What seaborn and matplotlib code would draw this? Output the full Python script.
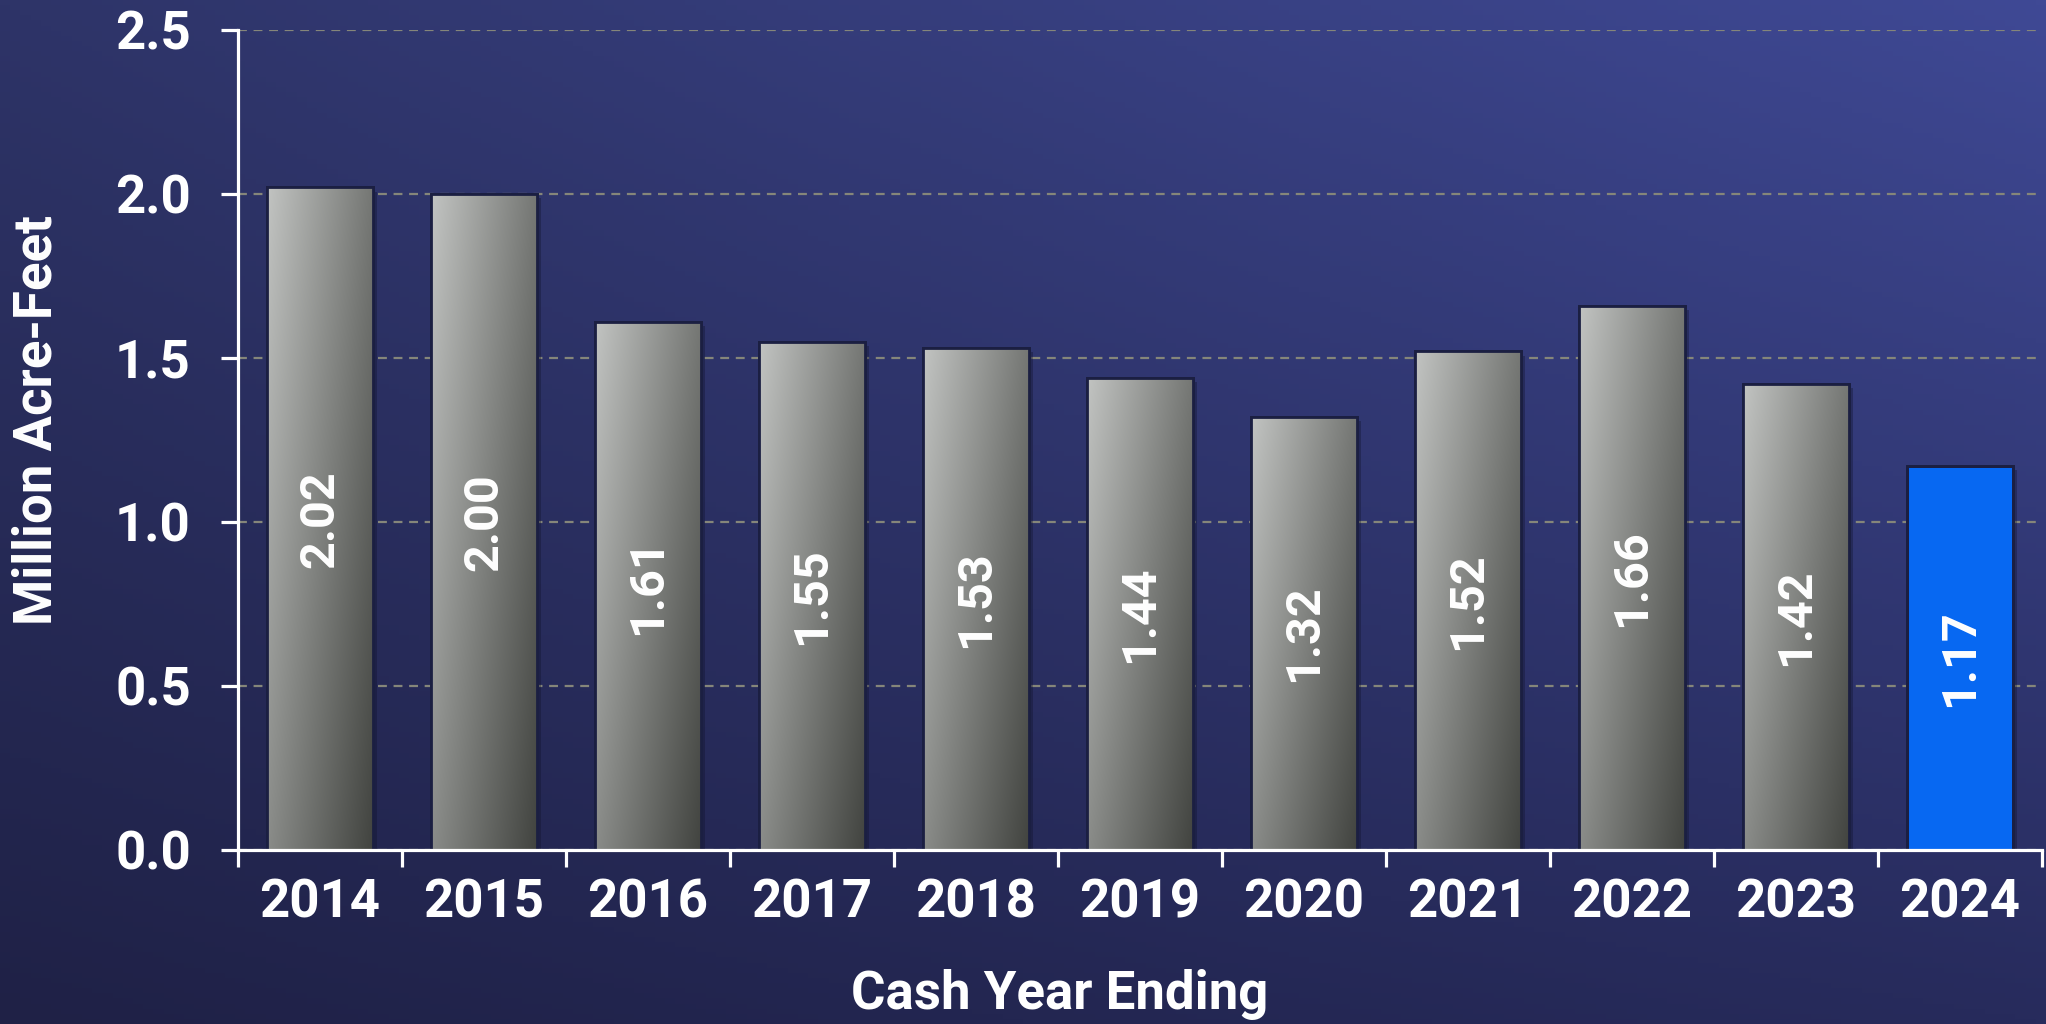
import numpy as np
import pandas as pd
import seaborn as sns
import matplotlib.pyplot as plt
from matplotlib.patches import Rectangle
from matplotlib import patheffects as pe

# data
years = ['2014', '2015', '2016', '2017', '2018', '2019', '2020', '2021', '2022', '2023', '2024']
values = [2.02, 2.00, 1.61, 1.55, 1.53, 1.44, 1.32, 1.52, 1.66, 1.42, 1.17]
value_labels = ['2.02', '2.00', '1.61', '1.55', '1.53', '1.44', '1.32', '1.52', '1.66', '1.42', '1.17']
highlight_year = '2024'
y_ticks = [0.0, 0.5, 1.0, 1.5, 2.0, 2.5]

df = pd.DataFrame({'year': years, 'value': values})

sns.set_theme(style='white')
plt.rcParams['font.family'] = ['Roboto', 'DejaVu Sans']
plt.rcParams['font.weight'] = 'bold'


def four_corner(tl, tr, bl, br, n=200):
    # bilinear blend of four corner colours, rows from top to bottom
    tl, tr, bl, br = [np.array(plt.matplotlib.colors.to_rgb(c)) for c in (tl, tr, bl, br)]
    u = np.linspace(0, 1, n)[None, :, None]
    v = np.linspace(0, 1, n)[:, None, None]
    top = tl * (1 - u) + tr * u
    bot = bl * (1 - u) + br * u
    return top * (1 - v) + bot * v


fig = plt.figure(figsize=(20.46, 10.24), dpi=100)

# background gradient
bg = fig.add_axes([0, 0, 1, 1], zorder=-10)
bg.imshow(four_corner('#2e3468', '#3f4995', '#1f2146', '#272b5c'),
          extent=[0, 1, 0, 1], aspect='auto', origin='upper')
bg.axis('off')

ax = fig.add_axes([238 / 2046, 1 - 850 / 1024, 1804 / 2046, 820 / 1024])
ax.set_facecolor('none')

palette = {y: ('#0768f2' if y == highlight_year else '#9a9c9a') for y in years}
sns.barplot(data=df, x='year', y='value', hue='year', palette=palette, saturation=1,
            width=0.65, edgecolor='#1b1f42', linewidth=2, legend=False, ax=ax,
            zorder=3)

bar_grad = four_corner('#c2c4c2', '#747673', '#8a8c89', '#41433f')
for patch, year in zip(ax.patches, years):
    patch.set_path_effects([pe.SimplePatchShadow(offset=(3, -3), shadow_rgbFace='#10122a', alpha=0.35),
                            pe.Normal()])
    x0, y0 = patch.get_x(), patch.get_y()
    w, h = patch.get_width(), patch.get_height()
    if year != highlight_year:
        im = ax.imshow(bar_grad, extent=[x0, x0 + w, y0, y0 + h], aspect='auto',
                       origin='upper', zorder=4)
        im.set_clip_path(patch)
    ax.add_patch(Rectangle((x0, y0), w, h, facecolor='none', edgecolor='#1b1f42',
                           linewidth=2, zorder=5))

for i, (v, lab) in enumerate(zip(values, value_labels)):
    ax.text(i, v / 2, lab, rotation=90, ha='center', va='center', color='white',
            fontsize=35, fontweight='bold', zorder=6)

ax.set_xlim(-0.5, len(years) - 0.5)
ax.set_ylim(0, 2.5)
ax.set_yticks(y_ticks)
ax.set_yticklabels([f'{t:.1f}' for t in y_ticks])
ax.set_xticks(np.arange(-0.5, len(years)), minor=True)

ax.yaxis.grid(True, linestyle=(0, (4, 3)), color='#85867a', linewidth=1.6)
ax.xaxis.grid(False)
ax.set_axisbelow(True)

for s in ['top', 'right']:
    ax.spines[s].set_visible(False)
for s in ['left', 'bottom']:
    ax.spines[s].set_color('white')
    ax.spines[s].set_linewidth(2.3)
    ax.spines[s].set_zorder(7)

ax.tick_params(axis='y', which='major', direction='out', length=12, width=2.3,
               color='white', labelcolor='white', labelsize=38, pad=22, left=True)
ax.tick_params(axis='x', which='major', length=0, labelcolor='white', labelsize=38, pad=20)
ax.tick_params(axis='x', which='minor', direction='out', length=12, width=2.3,
               color='white', bottom=True)
for lab in ax.get_xticklabels() + ax.get_yticklabels():
    lab.set_fontweight('bold')

ax.set_xlabel('Cash Year Ending', fontsize=38, color='white', fontweight='bold')
ax.set_ylabel('Million Acre-Feet', fontsize=38, color='white', fontweight='bold')
ax.xaxis.label.set_va('center')
ax.yaxis.label.set_va('center')
ax.xaxis.set_label_coords((1060 - 238) / 1804, (850 - 994) / 820)
ax.yaxis.set_label_coords((37 - 238) / 1804, (850 - 420) / 820)

plt.savefig('out.png', dpi=100)
